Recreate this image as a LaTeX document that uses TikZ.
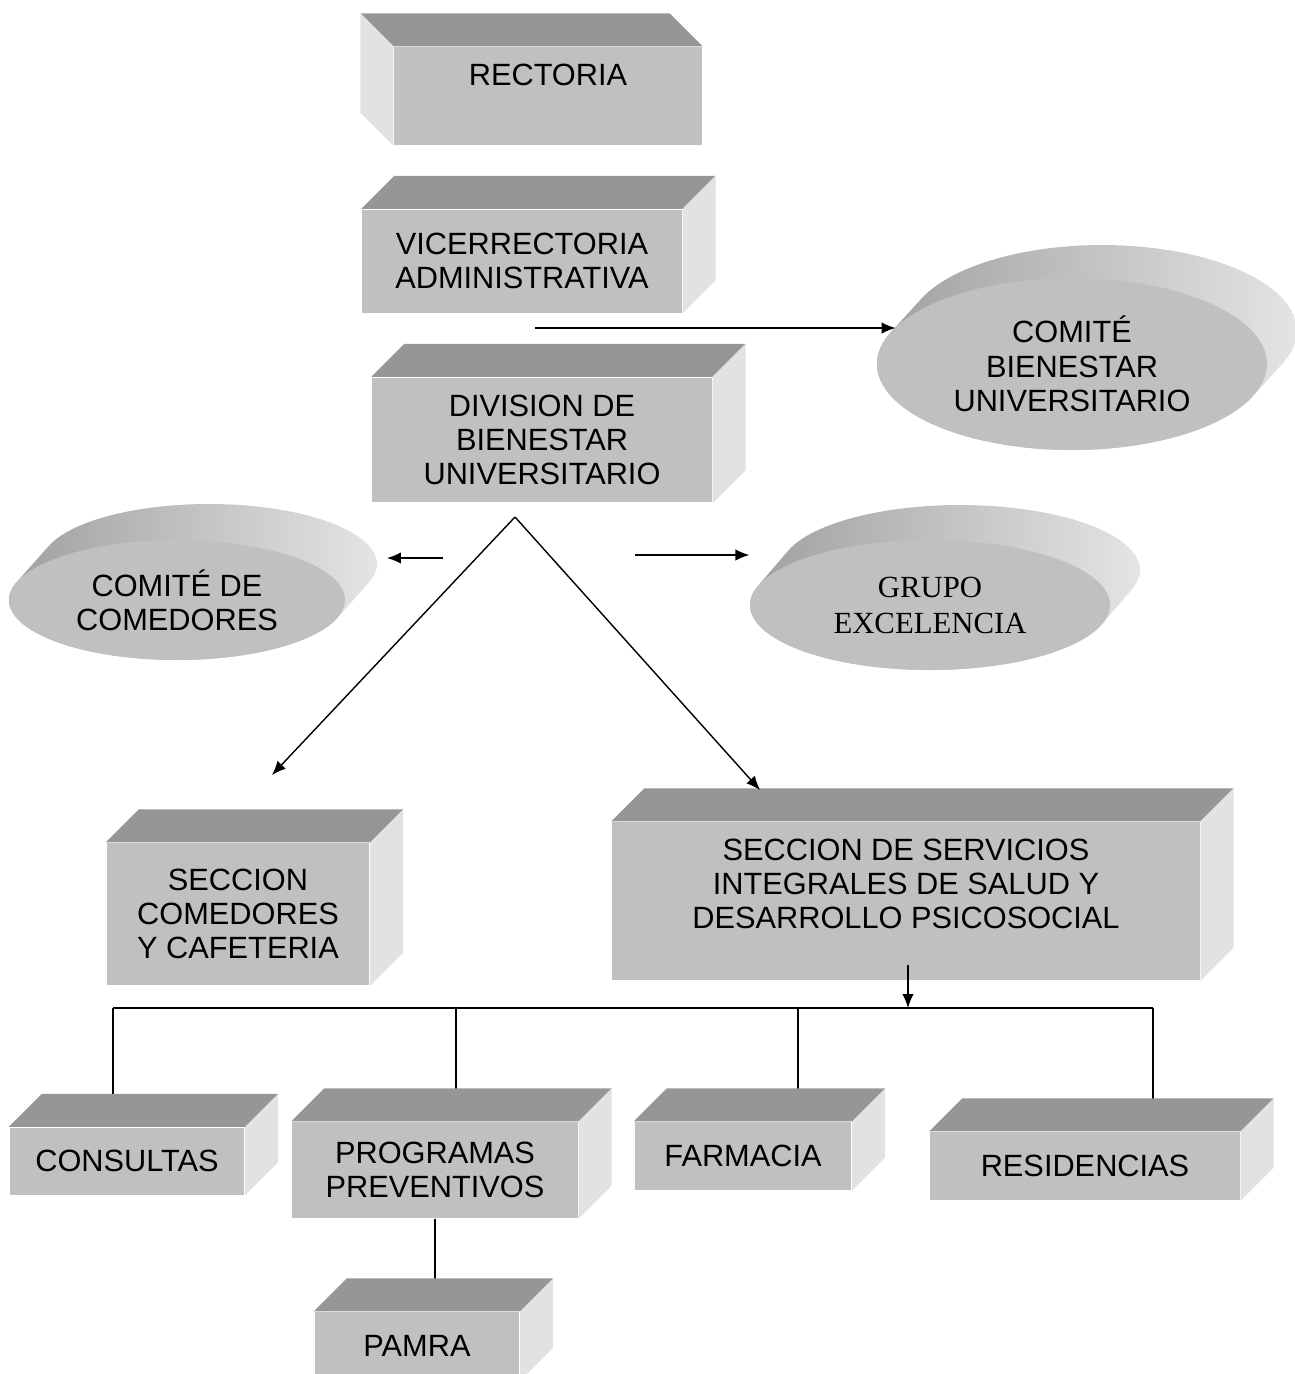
\documentclass[tikz,border=0pt]{standalone}
\usepackage{fontspec}
\setmainfont{Liberation Sans}
\newfontfamily\timesgrp{Liberation Serif}
\usepackage{tikz}
\usetikzlibrary{shapes.geometric, arrows.meta}
\definecolor{frente}{RGB}{192,192,192}
\definecolor{tapa}{RGB}{150,150,150}
\definecolor{lado}{RGB}{226,226,226}
\definecolor{sombra}{RGB}{156,156,156}
\definecolor{brillo}{RGB}{232,232,232}
% fondo de un ovalo: centro, radios, desplazamiento, angulo de tangencia
\newcommand{\ovalofondo}[6]{%
    \shade[fondo] ([shift={(#6:#2 and #3)}]#1) arc[start angle=#6, end angle=#6+180, x radius=#2, y radius=#3]
        -- ++(#4,#5) arc[start angle=#6+180, end angle=#6+360, x radius=#2, y radius=#3] -- cycle;}

\begin{document}
\begin{tikzpicture}[x=0.02cm, y=-0.02cm, line width=0.8pt, >={Latex[length=2.8mm,width=2.3mm]},
        caja/.style = {rectangle, fill=frente, inner sep=0pt, align=center, font=\fontsize{17.5}{19.5}\selectfont},
        ovalo/.style = {ellipse, fill=frente, inner sep=0pt, align=center, font=\fontsize{17.5}{19.5}\selectfont},
        fondo/.style = {left color=sombra, right color=brillo}]
        \useasboundingbox (0,0) rectangle (1295,1374);
        \coordinate (cbu-c) at (1072,364);
        \coordinate (com-c) at (177,600);
        \coordinate (grp-c) at (930,605);
        \ovalofondo{cbu-c}{3.9cm}{1.72cm}{0.6cm}{0.66cm}{158.15}
        \ovalofondo{com-c}{3.36cm}{1.2cm}{0.64cm}{0.72cm}{162.39}
        \ovalofondo{grp-c}{3.6cm}{1.3cm}{0.6cm}{0.7cm}{162.8}
        \node[caja, minimum width=6.16cm, minimum height=1.96cm, text depth=0.84cm] (rect) at (548,96) {RECTORIA};
        \node[caja, minimum width=6.4cm, minimum height=2.06cm] (vice) at (522,261) {VICERRECTORIA\\ADMINISTRATIVA};
        \node[caja, minimum width=6.8cm, minimum height=2.5cm] (div) at (542,440) {DIVISION DE\\BIENESTAR\\UNIVERSITARIO};
        \node[ovalo, minimum width=7.8cm, minimum height=3.44cm] (cbu) at (cbu-c) {COMITÉ\\BIENESTAR\\UNIVERSITARIO};
        \node[ovalo, minimum width=6.72cm, minimum height=2.4cm] (ccom) at (com-c) {COMITÉ DE\\COMEDORES};
        \node[ovalo, minimum width=7.2cm, minimum height=2.6cm, font=\timesgrp\fontsize{17.5}{20.5}\selectfont] (grp) at (grp-c) {GRUPO\\EXCELENCIA};
        \node[caja, minimum width=5.26cm, minimum height=2.84cm] (secom) at (238,914) {SECCION\\COMEDORES\\Y CAFETERIA};
        \node[caja, minimum width=11.76cm, minimum height=3.16cm] (seser) at (906,901) {SECCION DE SERVICIOS\\INTEGRALES DE SALUD Y\\DESARROLLO PSICOSOCIAL\\ \mbox{}};
        \node[caja, minimum width=4.7cm, minimum height=1.34cm] (cons) at (127,1161) {CONSULTAS};
        \node[caja, minimum width=5.72cm, minimum height=1.92cm] (prog) at (435,1170) {PROGRAMAS\\PREVENTIVOS};
        \node[caja, minimum width=4.34cm, minimum height=1.36cm] (farm) at (743,1156) {FARMACIA};
        \node[caja, minimum width=6.2cm, minimum height=1.36cm] (resi) at (1085,1166) {RESIDENCIAS};
        \node[caja, minimum width=4.1cm, minimum height=1.36cm] (pamra) at (417,1346) {PAMRA};
        \coordinate (bus-izq) at (113,1008);
        \coordinate (bus-der) at (1153,1008);
        \draw (bus-izq) -- (bus-der);
        \foreach \n/\x in {cons/113, prog/456, farm/798, resi/1153}
            \draw (\x,1008) -- (\x,0 |- \n.north);
        \draw (prog.south) -- (prog.south |- pamra.north);
        \foreach \n in {vice,div,secom,seser,cons,prog,farm,resi,pamra}{
            \fill[tapa] (\n.north west) -- ++(33,-33) -- ([shift={(33,-33)}]\n.north east) -- (\n.north east) -- cycle;
            \fill[lado] (\n.north east) -- ++(33,-33) -- ([shift={(33,-33)}]\n.south east) -- (\n.south east) -- cycle;
        }
        \fill[tapa] (rect.north west) -- ++(-33,-33) -- ([shift={(-33,-33)}]rect.north east) -- (rect.north east) -- cycle;
        \fill[lado] (rect.north west) -- ++(-33,-33) -- ([shift={(-33,-33)}]rect.south west) -- (rect.south west) -- cycle;
        \coordinate (va) at (535,328);
        \coordinate (ramal) at (515,517);
        \coordinate (ramal-i) at (272,775);
        \coordinate (ramal-d) at (760,790);
        \coordinate (izq) at (443,558);
        \coordinate (izq-fin) at (387,558);
        \coordinate (der) at (635,555);
        \coordinate (bus-sal) at (908,965);
        \draw[->] (va) -- (va -| cbu.168);
        \draw[->] (izq) -- (izq-fin);
        \draw[->] (der) -- (der -| grp.west);
        \draw[->] (ramal) -- (ramal-i);
        \draw[->] (ramal) -- (ramal-d);
        \draw[->] (bus-sal) -- (bus-sal |- bus-izq);
    \end{tikzpicture}
\end{document}
